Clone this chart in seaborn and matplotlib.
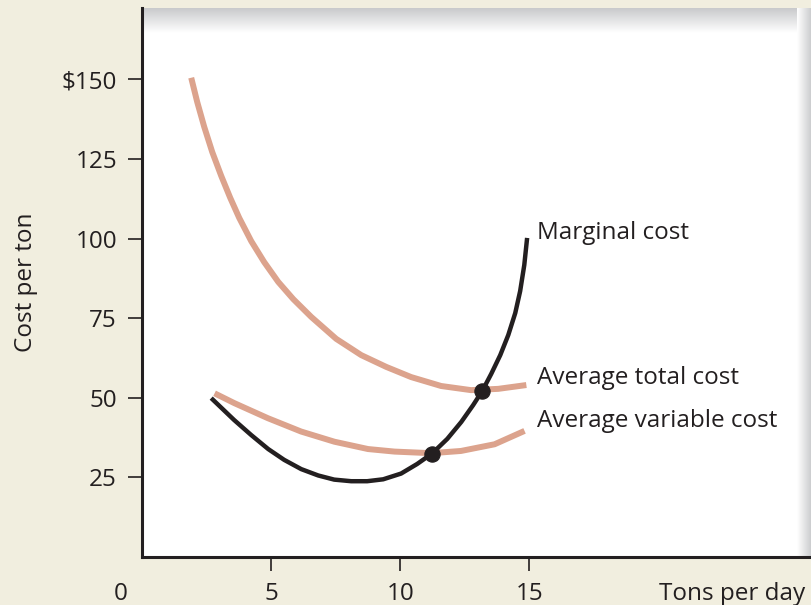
import numpy as np
import pandas as pd
import matplotlib.pyplot as plt
import seaborn as sns
from matplotlib.colors import LinearSegmentedColormap

# values
atc_q = [1.905, 2.137, 2.408, 2.718, 3.066, 3.415, 3.763, 4.228, 4.731, 5.273, 5.854,
         6.551, 7.519, 8.487, 9.455, 10.42, 11.58, 12.74, 13.79, 14.88]
atc_cost = [150.5, 142.9, 135.1, 127.2, 119.7, 112.8, 106.5, 99.2, 92.6, 86.4, 81.0,
            75.4, 68.5, 63.4, 59.7, 56.5, 53.7, 52.4, 52.8, 54.0]

avc_q = [2.81, 3.58, 4.87, 6.16, 7.45, 8.75, 9.78, 11.20, 12.35, 13.65, 14.81]
avc_cost = [51.4, 48.3, 43.6, 39.4, 36.2, 33.9, 33.1, 32.6, 33.3, 35.4, 39.6]

mc_q = [2.679, 3.569, 4.228, 4.886, 5.505, 6.164, 6.822, 7.441, 8.099, 8.719, 9.338,
        10.03, 10.65, 11.23, 11.82, 12.36, 12.82, 13.17, 13.52, 13.87, 14.18, 14.45,
        14.64, 14.80, 14.91]
mc_cost = [49.9, 43.0, 38.3, 33.9, 30.5, 27.6, 25.6, 24.3, 23.8, 23.8, 24.4,
           26.2, 29.2, 32.5, 37.1, 42.4, 47.7, 52.1, 57.5, 63.4, 69.7, 76.6,
           83.5, 91.7, 100.2]

dot_q = [11.23, 13.17]
dot_cost = [32.5, 52.2]

ytick_vals = [25, 50, 75, 100, 125, 150]
ytick_labels = ['25', '50', '75', '100', '125', '$150']
xtick_vals = [5, 10, 15]
xtick_labels = ['5', '10', '15']

curve_names = ['Marginal cost', 'Average total cost', 'Average variable cost']
name_q = [15.3, 15.3, 15.3]
name_cost = [100.0, 54.4, 40.9]

ink = '#231f20'
salmon = '#dca38d'
beige = '#f1eedf'

sns.set_style('white')
plt.rcParams['font.family'] = ['Open Sans', 'DejaVu Sans']
fs = 17.5

fig = plt.figure(figsize=(8.11, 6.05), dpi=100, facecolor=beige)
ax = fig.add_axes([142 / 811, 48 / 605, 669 / 811, 549 / 605])
ax.set_facecolor('white')

# soft shadow along the top and right of the plot area
shade = LinearSegmentedColormap.from_list('shade', ['white', '#c9cacc'])
ax.imshow(np.linspace(0, 1, 50).reshape(-1, 1), cmap=shade, aspect='auto',
          extent=[0, 1, 0.955, 1], transform=ax.transAxes, origin='lower', zorder=0)
ax.imshow(np.linspace(0, 0.8, 50).reshape(1, -1), cmap=shade, aspect='auto',
          extent=[0.979, 1, 0, 1], transform=ax.transAxes, zorder=0)

atc = pd.DataFrame({'q': atc_q, 'cost': atc_cost})
avc = pd.DataFrame({'q': avc_q, 'cost': avc_cost})
mc = pd.DataFrame({'q': mc_q, 'cost': mc_cost})

sns.lineplot(data=atc, x='q', y='cost', ax=ax, color=salmon, lw=4.3,
             solid_capstyle='butt', solid_joinstyle='round', zorder=2)
sns.lineplot(data=avc, x='q', y='cost', ax=ax, color=salmon, lw=4.3,
             solid_capstyle='butt', solid_joinstyle='round', zorder=2)
sns.lineplot(data=mc, x='q', y='cost', ax=ax, color=ink, lw=3.2,
             solid_capstyle='butt', solid_joinstyle='round', sort=False, zorder=3)
sns.scatterplot(x=dot_q, y=dot_cost, ax=ax, color=ink, s=120, edgecolor=ink, zorder=4)

for name, q, c in zip(curve_names, name_q, name_cost):
    ax.text(q, c, name, fontsize=fs, color=ink, ha='left', va='baseline')

ax.set_xlim(0, 25.9)
ax.set_ylim(0, 172.4)
ax.set_xticks(xtick_vals)
ax.set_xticklabels(xtick_labels)
ax.set_yticks(ytick_vals)
ax.set_yticklabels(ytick_labels)
ax.tick_params(direction='out', length=10, width=1.2, color=ink, labelcolor=ink,
               labelsize=fs, pad=8, left=True, bottom=True)
ax.set_xlabel('')
ax.set_ylabel('Cost per ton', fontsize=fs, color=ink)
ax.yaxis.set_label_coords(-0.155, 0.5)

for side in ['top', 'right']:
    ax.spines[side].set_visible(False)
for side in ['left', 'bottom']:
    ax.spines[side].set_color(ink)
    ax.spines[side].set_linewidth(2.2)

ax.annotate('0', xy=(0, 0), xycoords='data', xytext=(-15, -18),
            textcoords='offset points', ha='center', va='top', fontsize=fs, color=ink)
ax.annotate('Tons per day', xy=(1, 0), xycoords='axes fraction', xytext=(-4, -18),
            textcoords='offset points', ha='right', va='top', fontsize=fs, color=ink)

fig.savefig('out.png', dpi=100, facecolor=beige)
